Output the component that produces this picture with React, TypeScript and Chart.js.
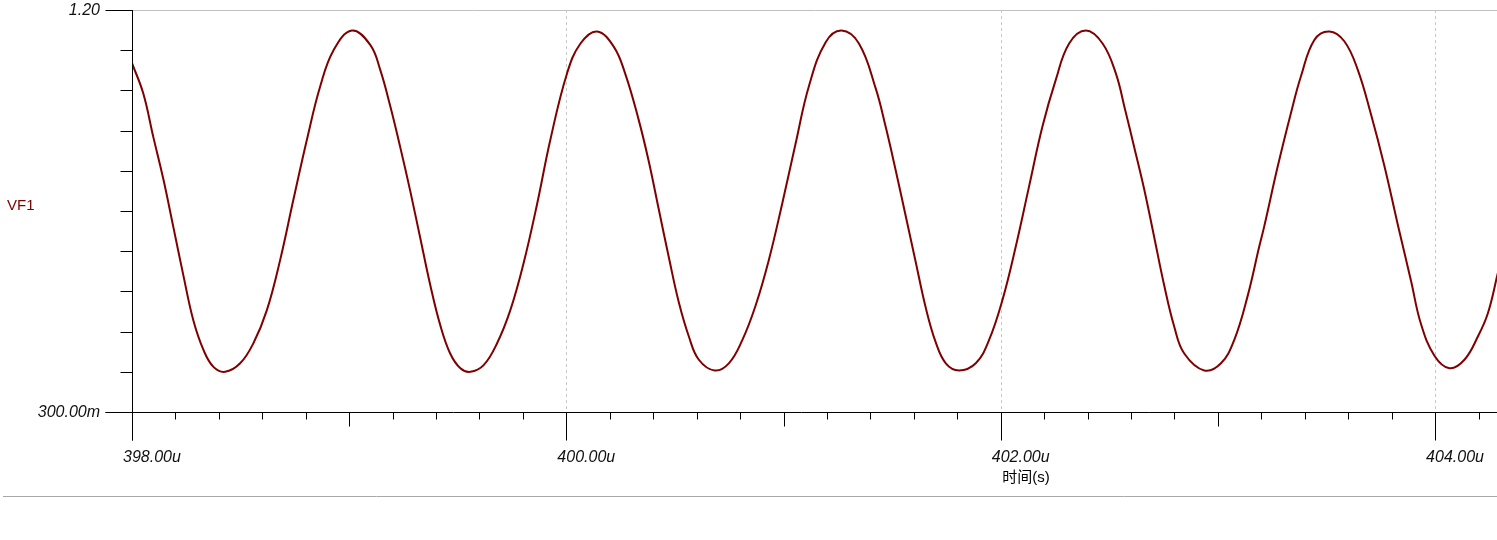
import React, { useEffect, useRef } from "react";
import { Chart, registerables } from "chart.js";

Chart.register(...registerables);

// ---- data ----
const timeUs = [
  398.0, 398.052, 398.098, 398.144, 398.19, 398.236, 398.282, 398.329, 398.375, 398.429,
  398.498, 398.559, 398.621, 398.682, 398.743, 398.805, 398.866, 398.928, 399.012, 399.097,
  399.143, 399.189, 399.235, 399.281, 399.327, 399.373, 399.419, 399.465, 399.512, 399.558,
  399.619, 399.681, 399.742, 399.803, 399.865, 399.926, 400.003, 400.065, 400.141, 400.218,
  400.272, 400.333, 400.379, 400.425, 400.471, 400.518, 400.564, 400.61, 400.683, 400.748,
  400.81, 400.871, 400.932, 400.994, 401.055, 401.117, 401.194, 401.267, 401.347, 401.424,
  401.47, 401.516, 401.562, 401.608, 401.654, 401.7, 401.747, 401.808, 401.885, 401.946,
  402.008, 402.069, 402.13, 402.192, 402.253, 402.315, 402.392, 402.469, 402.53, 402.573,
  402.614, 402.66, 402.706, 402.752, 402.799, 402.845, 402.937, 403.014, 403.075, 403.137,
  403.19, 403.213, 403.275, 403.336, 403.382, 403.444, 403.513, 403.582, 403.644, 403.705,
  403.766, 403.828, 403.889, 403.935, 403.997, 404.066, 404.135, 404.197, 404.243, 404.289,
];
const vf1 = [
  1.081, 1.013, 0.916, 0.822, 0.715, 0.607, 0.506, 0.439, 0.401, 0.39,
  0.409, 0.454, 0.528, 0.64, 0.775, 0.909, 1.028, 1.11, 1.154, 1.122,
  1.066, 0.985, 0.893, 0.795, 0.69, 0.585, 0.495, 0.431, 0.398, 0.39,
  0.405, 0.454, 0.528, 0.633, 0.765, 0.909, 1.058, 1.125, 1.152, 1.118,
  1.056, 0.954, 0.862, 0.755, 0.648, 0.545, 0.469, 0.417, 0.393, 0.409,
  0.461, 0.538, 0.64, 0.767, 0.9, 1.03, 1.128, 1.154, 1.125, 1.025,
  0.939, 0.842, 0.74, 0.637, 0.535, 0.457, 0.409, 0.393, 0.409, 0.461,
  0.551, 0.67, 0.804, 0.939, 1.043, 1.125, 1.154, 1.125, 1.058, 0.976,
  0.894, 0.8, 0.693, 0.585, 0.491, 0.431, 0.393, 0.409, 0.461, 0.56,
  0.67, 0.715, 0.849, 0.969, 1.051, 1.133, 1.152, 1.13, 1.066, 0.966,
  0.852, 0.72, 0.594, 0.497, 0.426, 0.398, 0.417, 0.469, 0.521, 0.611,
];

const xMin = 398;
const xMax = 404.285;
const yMin = 0.3;
const yMax = 1.2;

const xMajorValues = [398, 400, 402, 404];
const xMajorLabels = ["398.00u", "400.00u", "402.00u", "404.00u"];
const xMinorStep = 0.2;
const yLabelValues = [0.3, 1.2];
const yLabelTexts = ["300.00m", "1.20"];
const yMinorStep = 0.09;

const seriesName = "VF1";
const xTitle = "时间(s)";

const CURVE = "#7f0000";
const LABEL_FONT = '"Liberation Sans", Arial, sans-serif';

const axesPlugin = {
  id: "tinaAxes",
  beforeDatasetsDraw(chart: any) {
    const { ctx, chartArea: a, scales } = chart;
    const x = scales.x;
    ctx.save();
    ctx.lineWidth = 1;
    // top grid line
    ctx.strokeStyle = "#c0c0c0";
    ctx.beginPath();
    ctx.moveTo(a.left, Math.round(a.top) + 0.5);
    ctx.lineTo(a.right, Math.round(a.top) + 0.5);
    ctx.stroke();
    // vertical dashed grid lines
    ctx.strokeStyle = "#c8c8c8";
    ctx.setLineDash([3, 3]);
    xMajorValues.forEach((v) => {
      if (v <= xMin) return;
      const px = Math.round(x.getPixelForValue(v)) + 0.5;
      ctx.beginPath();
      ctx.moveTo(px, a.top);
      ctx.lineTo(px, a.bottom);
      ctx.stroke();
    });
    ctx.restore();
  },
  afterDraw(chart: any) {
    const { ctx, chartArea: a, scales } = chart;
    const x = scales.x;
    const y = scales.y;
    const ax = Math.round(a.left) + 0.5;
    const ay = Math.round(a.bottom) + 0.5;
    ctx.save();
    ctx.lineWidth = 1;
    ctx.strokeStyle = "#000";
    const line = (x1: number, y1: number, x2: number, y2: number) => {
      ctx.beginPath();
      ctx.moveTo(x1, y1);
      ctx.lineTo(x2, y2);
      ctx.stroke();
    };
    // axis lines
    line(ax, a.top, ax, ay + 28);
    line(ax - 27, ay, a.right, ay);
    // y ticks
    const nY = Math.round((yMax - yMin) / yMinorStep);
    for (let i = 0; i <= nY; i++) {
      const v = yMin + i * yMinorStep;
      const py = Math.round(y.getPixelForValue(v)) + 0.5;
      const labeled = yLabelValues.some((lv) => Math.abs(lv - v) < 1e-6);
      line(labeled ? ax - 27 : ax - 12, py, ax, py);
    }
    // x ticks
    const nX = Math.floor((xMax - xMin) / xMinorStep + 1e-6);
    for (let i = 0; i <= nX; i++) {
      const v = xMin + i * xMinorStep;
      const px = Math.round(x.getPixelForValue(v)) + 0.5;
      const r = Math.round(v);
      let len = 7;
      if (Math.abs(v - r) < 1e-6) len = r % 2 === 0 ? 28 : 14;
      line(px, ay, px, ay + len);
    }
    // labels
    ctx.fillStyle = "#111";
    ctx.font = "italic 16px " + LABEL_FONT;
    ctx.textBaseline = "alphabetic";
    ctx.textAlign = "left";
    xMajorValues.forEach((v, i) => {
      const px = x.getPixelForValue(v);
      ctx.fillText(xMajorLabels[i], px - 9, 462);
    });
    ctx.textAlign = "right";
    ctx.textBaseline = "middle";
    yLabelValues.forEach((v, i) => {
      const py = y.getPixelForValue(v);
      ctx.fillText(yLabelTexts[i], 100, py + 0.5);
    });
    // series name
    ctx.font = "15px " + LABEL_FONT;
    ctx.fillStyle = "#800000";
    ctx.textAlign = "left";
    ctx.fillText(seriesName, 7, 206);
    // x title
    ctx.font = '15px "Liberation Sans", "Noto Sans CJK SC", sans-serif';
    ctx.fillStyle = "#000";
    ctx.textAlign = "center";
    ctx.fillText(xTitle, 1026, 478);
    // separator
    ctx.strokeStyle = "#a8a8a8";
    line(3, 496.5, chart.width, 496.5);
    ctx.restore();
  },
};

export default function App() {
  const ref = useRef<HTMLCanvasElement | null>(null);
  useEffect(() => {
    if (!ref.current) return;
    const chart = new Chart(ref.current, {
      type: "line",
      data: {
        datasets: [
          {
            label: seriesName,
            data: timeUs.map((t, i) => ({ x: t, y: vf1[i] })),
            borderColor: CURVE,
            borderWidth: 2,
            pointRadius: 0,
            tension: 0.4,
            fill: false,
          },
        ],
      },
      options: {
        responsive: false,
        maintainAspectRatio: false,
        devicePixelRatio: 1,
        animation: false,
        layout: { padding: { left: 132, top: 10, right: 0, bottom: 128 } },
        plugins: { legend: { display: false }, tooltip: { enabled: false } },
        scales: {
          x: { type: "linear", min: xMin, max: xMax, display: false },
          y: { type: "linear", min: yMin, max: yMax, display: false },
        },
      },
      plugins: [axesPlugin],
    });
    return () => chart.destroy();
  }, []);
  return (
    <div style={{ position: "fixed", left: 0, top: 0, width: 1497, height: 540, background: "#fff" }}>
      <canvas ref={ref} width={1497} height={540} style={{ display: "block", width: 1497, height: 540 }} />
    </div>
  );
}
